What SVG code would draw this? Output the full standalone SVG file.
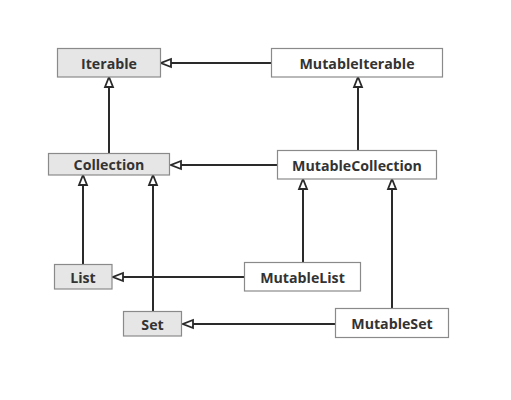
<svg xmlns="http://www.w3.org/2000/svg" width="511" height="400" viewBox="0 0 511 400">
<style>
.box{stroke:#8a8a8a;stroke-width:1.2}
.g{fill:#e6e6e6}
.w{fill:#ffffff}
.t{font-family:"Open Sans","Noto Sans","DejaVu Sans",sans-serif;font-weight:bold;font-size:14.2px;fill:#333;text-anchor:middle;dominant-baseline:central}
.c{stroke:#2a2a2a;stroke-width:2;fill:none;marker-end:url(#tri)}
</style>
<defs>
<marker id="tri" markerUnits="userSpaceOnUse" markerWidth="14" markerHeight="12" viewBox="-1 -1 14 12" refX="11" refY="5" orient="auto">
<path d="M1,1 L11,5 L1,9 Z" fill="#fff" stroke="#2a2a2a" stroke-width="1.8" stroke-linejoin="miter"/>
</marker>
</defs>
<rect width="511" height="400" fill="#fff"/>
<g id="connectors">
<line class="c" x1="271" y1="63" x2="161" y2="63"/>
<line class="c" x1="109" y1="153" x2="109" y2="77"/>
<line class="c" x1="358" y1="150" x2="358" y2="77"/>
<line class="c" x1="277" y1="165" x2="171" y2="165"/>
<line class="c" x1="83" y1="264" x2="83" y2="175"/>
<line class="c" x1="153" y1="311" x2="153" y2="175"/>
<line class="c" x1="303" y1="262" x2="303" y2="179"/>
<line class="c" x1="392" y1="308" x2="392" y2="179"/>
<line class="c" x1="244" y1="277" x2="113" y2="277"/>
<line class="c" x1="335" y1="324" x2="183" y2="324"/>
</g>
<g id="Iterable"><rect class="box g" x="57.5" y="48.5" width="103" height="28.5"/><text class="t" x="109" y="63">Iterable</text></g>
<g id="MutableIterable"><rect class="box w" x="271.5" y="48.5" width="171" height="28.5"/><text class="t" x="357" y="63">MutableIterable</text></g>
<g id="Collection"><rect class="box g" x="48.5" y="153.5" width="121" height="21.5"/><text class="t" x="109" y="164.5">Collection</text></g>
<g id="MutableCollection"><rect class="box w" x="277.5" y="150.5" width="159" height="28.5"/><text class="t" x="357" y="165">MutableCollection</text></g>
<g id="List"><rect class="box g" x="54.5" y="264.5" width="57.5" height="24.5"/><text class="t" x="83" y="277">List</text></g>
<g id="MutableList"><rect class="box w" x="244.5" y="262.5" width="116" height="28.5"/><text class="t" x="302.5" y="277">MutableList</text></g>
<g id="Set"><rect class="box g" x="123.5" y="311.5" width="58" height="24.5"/><text class="t" x="152.5" y="324">Set</text></g>
<g id="MutableSet"><rect class="box w" x="335.5" y="308.5" width="113" height="29"/><text class="t" x="392" y="323.5">MutableSet</text></g>
</svg>
